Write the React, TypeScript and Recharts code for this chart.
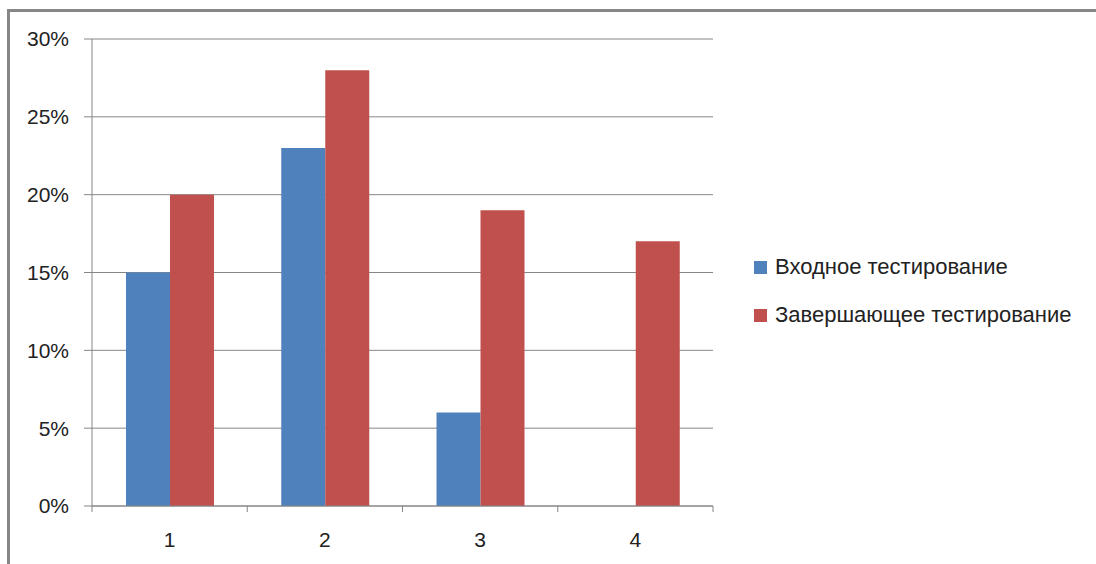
import React from 'react';
import { BarChart, Bar, XAxis, YAxis, CartesianGrid } from 'recharts';

const categories = ['1', '2', '3', '4'];
const entryTest = [15, 23, 6, 0];
const finalTest = [20, 28, 19, 17];
const yTicks = [0, 5, 10, 15, 20, 25, 30];
const boundaryTicks = [0, 1, 2, 3, 4];
const seriesNames = ['Входное тестирование', 'Завершающее тестирование'];
const seriesColors = ['#4F81BD', '#C0504D'];

const data = categories.map((c, i) => ({ cat: c, idx: i + 0.5, a: entryTest[i], b: finalTest[i] }));

const FONT = "'Liberation Sans', Arial, sans-serif";
const AXIS = '#868686';

export default function App() {
  return (
    <div style={{ position: 'absolute', left: 0, top: 0, width: 1096, height: 564, overflow: 'hidden', background: '#fff' }}>
      <div style={{ position: 'absolute', left: 7, top: 9, width: 1200, height: 700, borderLeft: `3px solid ${AXIS}`, borderTop: `3px solid ${AXIS}` }} />
      <div style={{ position: 'absolute', left: 0, top: 0 }}>
        <BarChart
          width={1096}
          height={564}
          data={data}
          margin={{ top: 39, right: 383, bottom: 27, left: 32 }}
          barGap={0}
        >
          <CartesianGrid vertical={false} stroke={AXIS} strokeWidth={1} />
          <XAxis
            xAxisId="a"
            type="number"
            dataKey="idx"
            domain={[0, 4]}
            ticks={boundaryTicks}
            height={1}
            stroke={AXIS}
            tickSize={6}
            tickFormatter={() => ''}
          />
          <XAxis
            xAxisId="b"
            dataKey="cat"
            height={30}
            axisLine={false}
            tickLine={false}
            tick={{ fontFamily: FONT, fontSize: 21, fill: '#222' }}
            tickMargin={19}
          />
          <YAxis
            width={60}
            domain={[0, 30]}
            ticks={yTicks}
            tickFormatter={(v: number) => `${v}%`}
            stroke={AXIS}
            tickSize={8}
            tickMargin={15}
            tick={{ fontFamily: FONT, fontSize: 21, fill: '#222' }}
          />
          <Bar xAxisId="b" dataKey="a" name={seriesNames[0]} fill={seriesColors[0]} barSize={44} isAnimationActive={false} />
          <Bar xAxisId="b" dataKey="b" name={seriesNames[1]} fill={seriesColors[1]} barSize={44} isAnimationActive={false} />
        </BarChart>
      </div>
      <div style={{ position: 'absolute', left: 754, top: 243, fontFamily: FONT, fontSize: 22, color: '#222' }}>
        {seriesNames.map((n, i) => (
          <div key={n} style={{ display: 'flex', alignItems: 'center', height: 48 }}>
            <span style={{ display: 'inline-block', width: 13, height: 13, background: seriesColors[i], marginRight: 8 }} />
            <span>{n}</span>
          </div>
        ))}
      </div>
    </div>
  );
}
